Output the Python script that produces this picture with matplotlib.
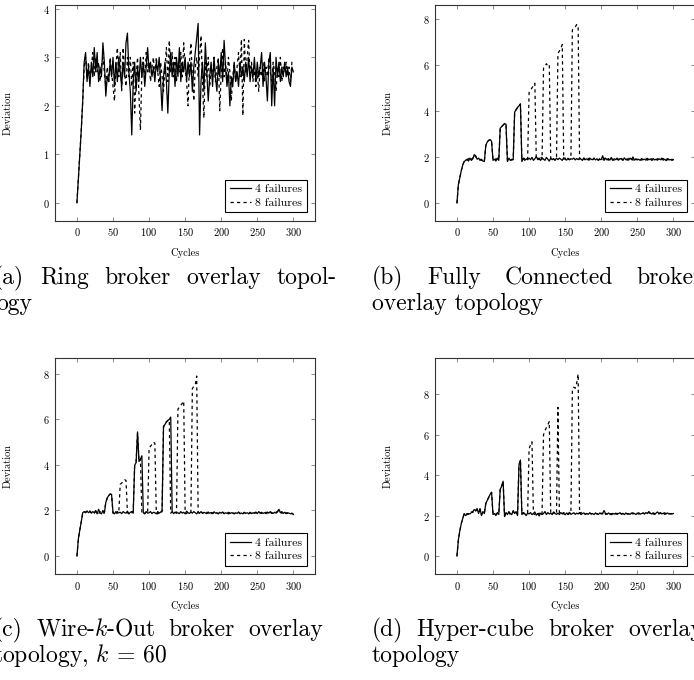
import numpy as np
import matplotlib
matplotlib.use("Agg")
import matplotlib.pyplot as plt
from matplotlib.ticker import MultipleLocator

plt.rcParams['font.family'] = ['cmr10', 'DejaVu Serif']
plt.rcParams['mathtext.fontset'] = 'cm'
plt.rcParams['axes.formatter.use_mathtext'] = True
plt.rcParams['axes.unicode_minus'] = False

# cycles sampled every 2 steps, 0..300
cycles = np.arange(0, 301, 2)

# (a) Ring
ring_4 = [
    0.0, 0.5, 1.0, 1.5, 2.1, 2.9, 3.1, 2.5, 2.8, 2.4,
    2.9, 2.6, 3.2, 2.7, 3.1, 2.5, 2.8, 2.6, 3.3, 2.9,
    2.2, 2.6, 2.5, 2.9, 2.6, 3.0, 2.4, 2.9, 2.5, 3.0,
    2.7, 2.4, 2.9, 2.6, 3.3, 3.5, 2.7, 2.3, 1.4, 2.5,
    2.9, 2.3, 2.8, 2.5, 3.0, 2.6, 2.9, 2.4, 2.8, 3.2,
    2.7, 2.9, 2.6, 2.8, 2.5, 2.9, 2.7, 3.0, 2.5, 1.9,
    2.6, 2.9, 2.5, 1.85, 2.7, 3.1, 2.6, 2.9, 2.4, 3.0,
    2.6, 3.2, 2.5, 2.9, 2.7, 3.0, 2.5, 2.9, 2.6, 2.9,
    2.3, 2.8, 3.1, 3.4, 3.7, 1.4, 2.5, 2.9, 2.3, 3.3,
    2.7, 2.1, 2.6, 2.9, 2.4, 3.0, 2.6, 2.3, 2.9, 2.6,
    3.1, 2.5, 3.35, 2.8, 2.4, 2.7, 2.0, 2.6, 2.4, 2.9,
    2.5, 2.7, 2.4, 2.9, 2.6, 2.8, 2.5, 2.9, 2.6, 3.0,
    2.5, 2.8, 2.6, 3.0, 2.5, 2.9, 2.6, 2.8, 3.1, 2.4,
    2.9, 2.6, 2.1, 2.9, 3.1, 2.0, 2.8, 2.0, 3.0, 2.6,
    2.9, 2.5, 2.8, 2.6, 2.9, 2.6, 2.8, 2.5, 2.4, 2.8,
    2.7]
ring_8 = [
    0.0, 0.5, 1.0, 1.5, 2.1, 2.8, 3.0, 2.6, 2.9, 2.5,
    2.8, 3.1, 2.6, 3.0, 2.7, 2.9, 2.5, 2.8, 3.0, 2.7,
    2.4, 2.8, 2.5, 3.0, 2.7, 2.4, 2.1, 2.8, 3.2, 2.6,
    3.1, 2.3, 3.2, 2.7, 2.4, 3.0, 2.6, 3.0, 2.4, 2.9,
    1.85, 2.6, 3.0, 2.2, 1.5, 2.7, 3.0, 2.5, 3.1, 2.7,
    2.9, 2.5, 2.8, 3.0, 2.6, 3.0, 2.7, 2.4, 2.9, 2.6,
    2.3, 2.8, 3.2, 2.5, 3.35, 2.7, 3.1, 2.6, 3.0, 2.5,
    2.9, 2.7, 3.1, 2.6, 3.3, 2.8, 2.5, 2.0, 2.9, 3.3,
    2.6, 2.1, 2.8, 3.0, 2.6, 3.0, 3.45, 2.5, 1.75, 2.9,
    2.6, 3.0, 2.4, 2.8, 2.6, 3.0, 2.5, 2.8, 3.0, 1.9,
    2.7, 3.2, 2.6, 2.9, 2.5, 3.0, 2.7, 2.1, 2.6, 2.9,
    2.5, 2.8, 3.1, 2.6, 3.37, 1.8, 3.37, 2.7, 3.0, 3.35,
    2.6, 2.9, 2.5, 2.8, 2.4, 2.7, 2.3, 2.8, 2.6, 2.9,
    2.5, 2.8, 2.6, 3.0, 2.7, 2.5, 2.9, 2.7, 2.3, 2.8,
    2.6, 3.0, 2.5, 2.8, 2.7, 2.9, 2.6, 2.8, 2.5, 2.9,
    2.9]

# (b) Fully Connected
full_4 = [
    0.0, 0.8, 1.1, 1.4, 1.65, 1.8, 1.85, 1.9, 1.82, 1.95,
    1.85, 1.92, 2.1, 2.05, 1.9, 1.95, 1.85, 1.9, 1.82, 1.8,
    2.5, 2.65, 2.72, 2.75, 2.68, 1.85, 1.9, 1.82, 1.95, 1.85,
    3.25, 3.32, 3.38, 3.45, 3.42, 1.8, 1.95, 1.85, 1.9, 1.88,
    3.95, 4.05, 4.15, 4.22, 4.3, 1.8, 1.95, 1.85, 1.92, 1.88,
    1.95, 1.88, 1.98, 1.85, 1.92, 2.02, 1.88, 1.95, 1.85, 1.97,
    1.9, 1.85, 1.98, 1.9, 1.82, 1.95, 1.88, 1.93, 1.86, 1.95,
    1.88, 1.95, 1.9, 1.85, 1.97, 1.9, 1.86, 1.94, 1.88, 1.92,
    1.9, 1.95, 1.87, 1.93, 1.88, 1.95, 1.9, 1.85, 1.96, 1.88,
    1.92, 1.86, 1.95, 1.9, 1.88, 1.94, 1.87, 1.92, 1.85, 1.9,
    1.88, 2.05, 1.85, 1.95, 1.87, 1.93, 1.86, 1.98, 1.85, 1.92,
    1.88, 1.95, 1.86, 1.93, 1.9, 1.85, 1.96, 1.88, 1.92, 1.86,
    1.95, 1.88, 2.0, 1.86, 1.92, 1.87, 1.9, 1.85, 1.93, 1.88,
    1.9, 1.86, 1.94, 1.88, 1.91, 1.85, 1.93, 1.87, 1.9, 1.86,
    1.92, 1.88, 1.95, 1.86, 1.9, 1.84, 1.93, 1.87, 1.89, 1.85,
    1.88]
full_8 = [
    0.0, 0.8, 1.1, 1.4, 1.65, 1.8, 1.88, 1.86, 1.93, 1.84,
    1.9, 1.95, 2.08, 2.0, 1.92, 1.88, 1.9, 1.85, 1.86, 1.82,
    2.5, 2.65, 2.72, 2.75, 2.68, 1.88, 1.85, 1.92, 1.86, 1.9,
    3.25, 3.32, 3.38, 3.45, 3.42, 1.85, 1.92, 1.88, 1.86, 1.9,
    3.95, 4.05, 4.15, 4.22, 4.3, 1.85, 1.9, 1.95, 1.86, 1.92,
    4.8, 4.9, 5.0, 5.1, 5.2, 1.9, 1.95, 1.88, 2.02, 1.9,
    5.85, 5.92, 6.05, 5.95, 6.0, 1.88, 1.95, 1.9, 1.86, 1.94,
    6.5, 6.6, 6.72, 6.88, 1.9, 1.95, 1.86, 1.92, 1.88, 1.95,
    7.52, 7.6, 7.65, 7.75, 7.72, 1.9, 1.95, 1.88, 1.93, 1.86,
    1.9, 1.94, 1.87, 1.92, 1.86, 1.95, 1.88, 1.9, 1.87, 1.93,
    1.9, 1.86, 1.95, 1.88, 1.92, 1.86, 1.94, 1.88, 1.9, 1.85,
    1.93, 1.88, 1.9, 1.86, 1.95, 1.87, 1.92, 1.9, 1.86, 1.94,
    1.88, 1.92, 1.86, 1.95, 1.88, 1.9, 1.87, 1.93, 1.86, 1.9,
    1.88, 1.94, 1.86, 1.9, 1.87, 1.92, 1.85, 1.9, 1.88, 1.92,
    1.86, 1.9, 1.88, 1.93, 1.85, 1.9, 1.87, 1.92, 1.86, 1.9,
    1.87]

# (c) Wire-k-Out, k = 60
wire_4 = [
    0.0, 0.75, 1.15, 1.5, 1.9, 1.95, 1.92, 1.98, 1.9, 1.95,
    1.88, 1.95, 1.9, 2.0, 1.85, 2.05, 1.9, 1.85, 2.0, 1.88,
    2.35, 2.55, 2.65, 2.72, 2.7, 1.9, 1.85, 1.95, 1.88, 1.9,
    1.92, 1.86, 1.95, 1.9, 1.88, 1.97, 1.85, 1.92, 1.95, 1.88,
    3.98, 4.1, 5.45, 4.15, 4.25, 4.4, 1.9, 1.85, 1.95, 1.88,
    1.9, 1.95, 1.86, 1.92, 1.9, 1.85, 1.95, 1.88, 1.93, 1.98,
    5.65, 5.78, 5.88, 5.95, 6.0, 6.1, 1.95, 1.86, 1.92, 1.88,
    1.9, 1.86, 1.95, 1.88, 1.92, 1.85, 1.97, 1.9, 1.87, 1.93,
    1.88, 1.95, 1.9, 1.85, 1.93, 1.88, 1.95, 1.87, 1.92, 1.89,
    1.86, 1.93, 1.88, 1.91, 1.86, 1.94, 1.88, 1.9, 1.85, 1.92,
    1.88, 1.93, 1.86, 1.9, 1.87, 1.92, 1.86, 1.9, 1.88, 1.85,
    1.9, 1.87, 1.92, 1.86, 1.89, 1.85, 1.91, 1.87, 1.9, 1.86,
    1.92, 1.86, 1.9, 1.88, 1.93, 1.86, 1.95, 1.88, 1.92, 1.87,
    1.9, 1.86, 1.93, 1.88, 1.95, 1.9, 1.87, 1.92, 1.88, 1.93,
    2.05, 1.9, 1.95, 1.87, 1.92, 1.86, 1.9, 1.88, 1.85, 1.87,
    1.82]
wire_8 = [
    0.0, 0.75, 1.15, 1.5, 1.88, 1.95, 1.9, 1.96, 1.92, 1.98,
    1.9, 1.93, 1.88, 1.96, 1.9, 1.85, 1.95, 1.9, 1.86, 1.92,
    2.35, 2.55, 2.65, 2.72, 2.7, 1.88, 1.92, 1.85, 1.95, 1.9,
    3.15, 3.2, 3.28, 3.35, 3.32, 1.9, 1.86, 1.93, 1.9, 1.95,
    3.98, 4.1, 5.4, 4.15, 4.25, 1.88, 1.92, 1.86, 1.95, 1.9,
    4.75, 4.82, 4.9, 5.0, 4.95, 1.9, 1.85, 1.93, 1.88, 1.95,
    5.7, 5.8, 5.9, 5.95, 5.98, 1.88, 1.95, 1.86, 1.92, 1.9,
    6.45, 6.55, 6.62, 6.7, 6.8, 1.9, 1.86, 1.94, 1.88, 1.92,
    7.35, 7.45, 7.5, 7.9, 1.92, 1.86, 1.95, 1.88, 1.9, 1.85,
    1.92, 1.88, 1.94, 1.86, 1.9, 1.87, 1.93, 1.88, 1.86, 1.91,
    1.88, 1.92, 1.86, 1.9, 1.88, 1.85, 1.92, 1.87, 1.9, 1.86,
    1.9, 1.88, 1.93, 1.86, 1.9, 1.87, 1.92, 1.86, 1.89, 1.85,
    1.9, 1.87, 1.93, 1.88, 1.9, 1.86, 1.92, 1.9, 1.87, 1.91,
    1.88, 1.92, 1.86, 1.9, 1.93, 1.87, 1.9, 1.88, 1.92, 1.96,
    2.02, 1.92, 1.88, 1.93, 1.86, 1.9, 1.87, 1.9, 1.86, 1.88,
    1.84]

# (d) Hyper-cube
cube_4 = [
    0.0, 0.8, 1.25, 1.6, 1.85, 2.1, 2.0, 2.05, 2.1, 2.08,
    2.15, 2.2, 2.3, 2.25, 2.35, 2.1, 2.35, 2.0, 2.2, 2.1,
    2.6, 2.75, 2.9, 3.05, 3.15, 2.05, 2.1, 2.0, 2.15, 2.05,
    3.3, 3.45, 3.7, 1.95, 2.15, 2.05, 2.2, 2.1, 2.05, 2.25,
    2.1, 2.2, 2.0, 4.5, 4.75, 2.05, 2.15, 2.1, 2.0, 2.12,
    2.08, 2.15, 2.05, 2.1, 2.18, 2.02, 2.1, 1.98, 2.12, 2.05,
    2.1, 2.2, 2.05, 2.15, 2.08, 2.12, 2.05, 2.18, 2.1, 2.06,
    2.12, 2.05, 2.15, 2.08, 2.1, 2.04, 2.13, 2.08, 2.16, 2.06,
    2.1, 2.14, 2.06, 2.12, 2.08, 2.15, 2.05, 2.1, 2.13, 2.07,
    2.11, 2.06, 2.14, 2.08, 2.1, 2.05, 2.12, 2.09, 2.06, 2.13,
    2.08, 2.12, 2.25, 2.1, 2.06, 2.13, 2.08, 2.04, 2.11, 2.07,
    2.12, 2.06, 2.1, 2.14, 2.07, 2.11, 2.05, 2.12, 2.08, 2.1,
    2.06, 2.13, 2.08, 2.11, 2.05, 2.1, 2.14, 2.07, 2.1, 2.12,
    2.08, 2.15, 2.1, 2.2, 2.12, 2.08, 2.14, 2.06, 2.12, 2.18,
    2.1, 2.15, 2.08, 2.12, 2.06, 2.1, 2.13, 2.07, 2.1, 2.08,
    2.1]
cube_8 = [
    0.0, 0.8, 1.25, 1.6, 1.85, 2.08, 2.02, 2.1, 2.06, 2.12,
    2.18, 2.15, 2.28, 2.22, 2.3, 2.15, 2.3, 2.05, 2.15, 2.12,
    2.6, 2.75, 2.9, 3.05, 3.15, 2.08, 2.12, 2.05, 2.1, 2.08,
    3.3, 3.45, 3.7, 1.98, 2.1, 2.08, 2.15, 2.05, 2.12, 2.2,
    2.12, 2.18, 2.05, 4.5, 4.75, 2.08, 2.12, 2.05, 2.1, 2.15,
    5.3, 5.5, 5.65, 2.1, 2.05, 2.15, 2.08, 2.12, 2.0, 2.1,
    6.0, 6.2, 6.35, 6.5, 6.65, 2.1, 2.05, 2.15, 2.1, 2.08,
    7.35, 2.12, 2.05, 2.1, 2.15, 2.08, 2.12, 2.05, 2.1, 2.13,
    8.2, 8.35, 8.3, 8.55, 9.0, 2.1, 2.15, 2.08, 2.12, 2.05,
    2.1, 2.07, 2.13, 2.08, 2.11, 2.06, 2.12, 2.08, 2.1, 2.05,
    2.12, 2.08, 2.18, 2.06, 2.1, 2.14, 2.07, 2.1, 2.05, 2.12,
    2.08, 2.11, 2.06, 2.13, 2.08, 2.1, 2.05, 2.12, 2.09, 2.06,
    2.11, 2.08, 2.14, 2.06, 2.1, 2.12, 2.07, 2.11, 2.08, 2.13,
    2.1, 2.06, 2.12, 2.16, 2.1, 2.14, 2.07, 2.11, 2.08, 2.14,
    2.08, 2.12, 2.06, 2.1, 2.14, 2.07, 2.1, 2.12, 2.08, 2.1,
    2.12]

labels = ['4 failures', '8 failures']

W, H = 694, 680
fig = plt.figure(figsize=(W / 100, H / 100), dpi=100)


def px_axes(left, top, right, bottom):
    return [left / W, 1 - bottom / H, (right - left) / W, (bottom - top) / H]


def panel(rect, y4, y8, ylim, ystep):
    ax = fig.add_axes(rect)
    l8, = ax.plot(cycles, y8, color='black', lw=0.9, ls=(0, (2.6, 2.6)))
    l4, = ax.plot(cycles, y4, color='black', lw=0.9)
    ax.set_xlim(-30, 330)
    ax.set_ylim(*ylim)
    ax.xaxis.set_major_locator(MultipleLocator(50))
    ax.yaxis.set_major_locator(MultipleLocator(ystep))
    ax.tick_params(direction='in', top=True, right=True, length=3,
                   width=0.6, color='#777777', labelsize=7.5, pad=4)
    for s in ax.spines.values():
        s.set_linewidth(0.8)
        s.set_color('#333333')
    ax.set_xlabel('Cycles', fontsize=7.5, labelpad=7)
    ax.set_ylabel('Deviation', fontsize=7.5, labelpad=22)
    leg = ax.legend([l4, l8], labels, loc='lower right', fontsize=8.5,
                    fancybox=False, framealpha=1, edgecolor='black',
                    handlelength=1.75, handletextpad=0.35, borderaxespad=0.7,
                    borderpad=0.4, labelspacing=0.25)
    leg.get_frame().set_linewidth(0.8)
    return ax


panel(px_axes(55.3, 5, 315, 220.7), ring_4, ring_8, (-0.37, 4.08), 1)
panel(px_axes(435.3, 5, 695, 220.7), full_4, full_8, (-0.77, 8.6), 2)
panel(px_axes(55.3, 358.3, 315, 574), wire_4, wire_8, (-0.79, 8.68), 2)
panel(px_axes(435.3, 358.3, 695, 574), cube_4, cube_8, (-0.89, 9.78), 2)

CAP = 17
renderer = fig.canvas.get_renderer()


def caption(words, x0, x1, y):
    # justified caption line: first word at x0, last word ends at x1
    texts = [fig.text(0, 1 - y / H, w, fontsize=CAP, va='baseline')
             for w in words]
    widths = [t.get_window_extent(renderer).width for t in texts]
    gap = 0
    if len(words) > 1 and x1 is not None:
        gap = (x1 - x0 - sum(widths)) / (len(words) - 1)
    x = x0
    for t, w in zip(texts, widths):
        t.set_x(x / W)
        x += w + gap


caption(['(a)', 'Ring', 'broker', 'overlay', 'topol-'], -6, 337, 284)
caption(['ogy'], -4, None, 310)
caption(['(b)', 'Fully', 'Connected', 'broker'], 371.7, 703, 284)
caption(['overlay topology'], 371.7, None, 310)
caption(['(c)', 'Wire-$k$-Out', 'broker', 'overlay'], -6, 323, 636)
caption(['topology, $k$ = 60'], -7, None, 662)
caption(['(d)', 'Hyper-cube', 'broker', 'overlay'], 371.7, 703, 636)
caption(['topology'], 371.7, None, 662)

fig.savefig('out.png', dpi=100)
